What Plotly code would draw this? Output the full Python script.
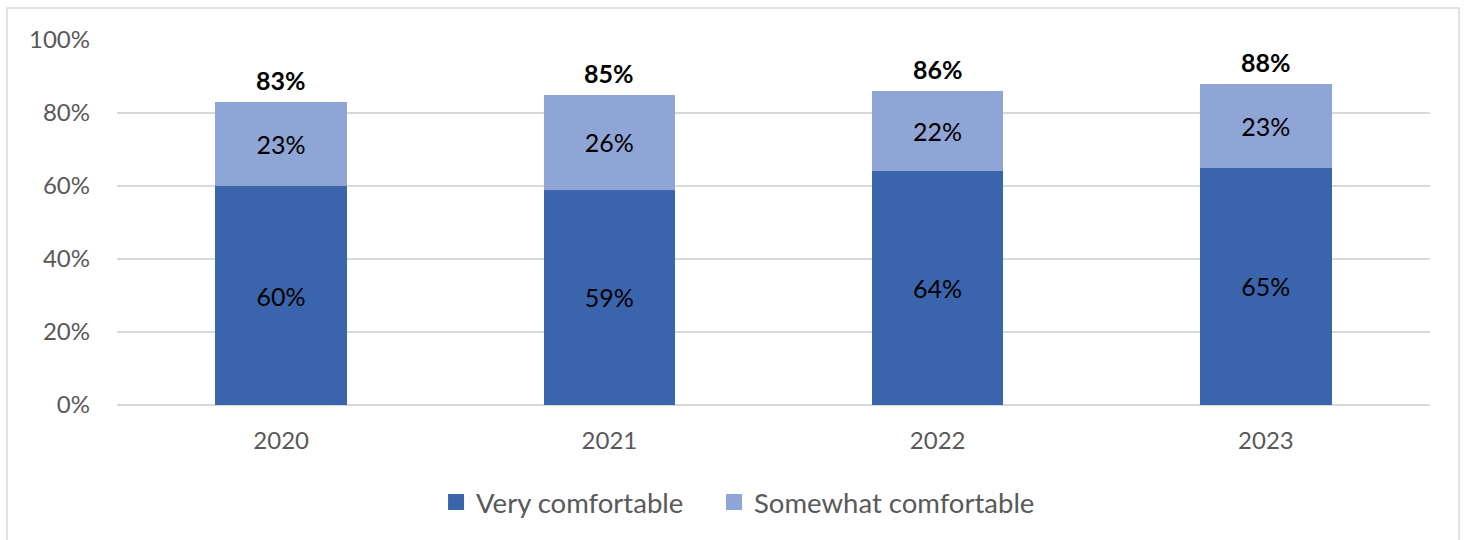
import plotly.graph_objects as go

years = ["2020", "2021", "2022", "2023"]
very = [60, 59, 64, 65]
somewhat = [23, 26, 22, 23]
totals = [83, 85, 86, 88]

FONT = "Lato"
C_VERY = "#3A64AB"
C_SOME = "#8FA5D5"

fig = go.Figure()
fig.add_trace(go.Bar(
    x=years, y=very, name="Very comfortable", showlegend=False,
    marker=dict(color=C_VERY, line=dict(width=0)),
    text=[f"{v}%" for v in very], textposition="inside", insidetextanchor="middle",
    textfont=dict(family=FONT, size=25, color="#000000"),
))
fig.add_trace(go.Bar(
    x=years, y=somewhat, name="Somewhat comfortable", showlegend=False,
    marker=dict(color=C_SOME, line=dict(width=0)),
    text=[f"{v}%" for v in somewhat], textposition="inside", insidetextanchor="middle",
    textfont=dict(family=FONT, size=25, color="#000000"),
))
# legend entries with larger square swatches, each in its own legend box
for name, col, lg in [("Very comfortable", C_VERY, "legend"),
                      ("Somewhat comfortable", C_SOME, "legend2")]:
    fig.add_trace(go.Scatter(x=[None], y=[None], mode="markers", name=name, legend=lg,
                             marker=dict(symbol="square", size=16, color=col)))

for i, t in enumerate(totals):
    fig.add_annotation(x=i, y=t, text=f"<b>{t}%</b>", showarrow=False,
                       yanchor="bottom", yshift=5,
                       font=dict(family=FONT, size=25, color="#000000"))

fig.add_shape(type="rect", xref="paper", yref="paper",
              x0=-0.0838, x1=1.0221, y0=-0.5, y1=1.0877,
              line=dict(color="#D9D9D9", width=1.5), fillcolor="rgba(0,0,0,0)", layer="below")

legend_common = dict(orientation="h", xanchor="left", y=-0.266, yanchor="middle",
                     font=dict(family=FONT, size=27.5, color="#595959"),
                     itemsizing="trace", bgcolor="rgba(0,0,0,0)")

fig.update_layout(
    barmode="stack", bargap=0.6,
    width=1465, height=540,
    margin=dict(l=117, r=35, t=40, b=135),
    plot_bgcolor="white", paper_bgcolor="white",
    font=dict(family=FONT, size=24, color="#595959"),
    showlegend=True,
    legend=dict(x=0.243, **legend_common),
    legend2=dict(x=0.4547, **legend_common),
    uniformtext=dict(mode=False),
)
fig.update_yaxes(range=[0, 100], tickvals=[0, 20, 40, 60, 80, 100],
                 ticktext=["0%", "20%", "40%", "60%", "80%", "100%"],
                 showgrid=True, gridcolor="#D9D9D9", gridwidth=1.5,
                 zeroline=True, zerolinecolor="#D9D9D9", zerolinewidth=1.5,
                 showline=False, ticks="", ticklabelstandoff=26,
                 tickfont=dict(family=FONT, size=24, color="#595959"))
fig.update_xaxes(type="category", showgrid=False, showline=False, ticks="", ticklabelstandoff=19,
                 tickfont=dict(family=FONT, size=24, color="#595959"))

fig.write_html("out.html", config={"displayModeBar": False},
               post_script="document.body.style.margin='0';document.body.style.overflow='hidden';")
